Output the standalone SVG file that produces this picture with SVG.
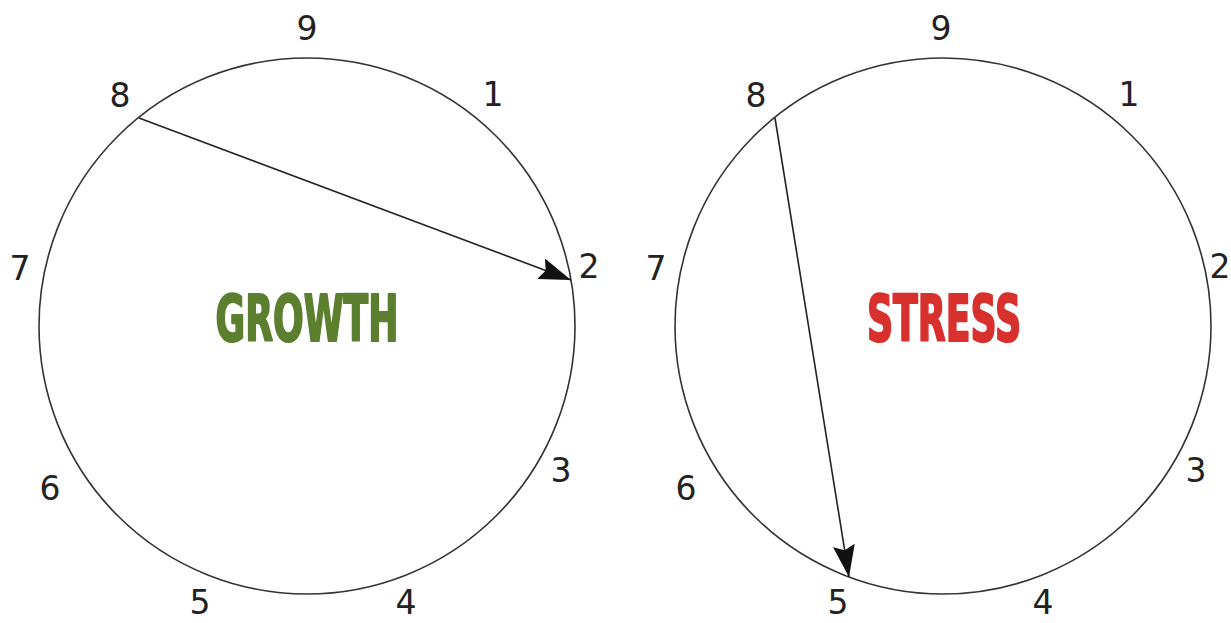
<svg xmlns="http://www.w3.org/2000/svg" width="1231" height="623" viewBox="0 0 1231 623">
<style>
.ring{fill:none;stroke:#333;stroke-width:1.6}
.num{font-family:"DejaVu Sans",Verdana,sans-serif;font-size:33px;fill:#222;text-anchor:middle}
.title{font-family:"DejaVu Sans Condensed","Liberation Sans Narrow",sans-serif;font-weight:bold;font-size:64px;text-anchor:middle;stroke-width:2.2;stroke-linejoin:round}
.conn{stroke:#222;stroke-width:1.6;fill:none}
</style>
<defs>
<marker id="ah" markerUnits="userSpaceOnUse" markerWidth="34" markerHeight="24" refX="32" refY="11" orient="auto">
<path d="M0,0 L32,11 L0,22 L5,11 Z" fill="#111"/>
</marker>
</defs>
<rect width="1231" height="623" fill="#fff"/>
<g id="growth">
<circle class="ring" cx="307" cy="326" r="268"/>
<text class="title" x="307" y="341" fill="#5b7f2e" stroke="#5b7f2e" textLength="183" lengthAdjust="spacingAndGlyphs">GROWTH</text>
<text class="num" x="307" y="40">9</text>
<text class="num" x="493" y="106">1</text>
<text class="num" x="589" y="278">2</text>
<text class="num" x="561" y="482">3</text>
<text class="num" x="406" y="614">4</text>
<text class="num" x="200" y="614">5</text>
<text class="num" x="50" y="500">6</text>
<text class="num" x="20" y="280">7</text>
<text class="num" x="120" y="107">8</text>
</g>
<g id="stress">
<circle class="ring" cx="943" cy="326" r="268"/>
<text class="title" x="944" y="341" fill="#d8302c" stroke="#d8302c" textLength="154" lengthAdjust="spacingAndGlyphs">STRESS</text>
<text class="num" x="941" y="40">9</text>
<text class="num" x="1129" y="106">1</text>
<text class="num" x="1220" y="278">2</text>
<text class="num" x="1196" y="482">3</text>
<text class="num" x="1043" y="614">4</text>
<text class="num" x="838" y="614">5</text>
<text class="num" x="686" y="500">6</text>
<text class="num" x="656" y="280">7</text>
<text class="num" x="756" y="107">8</text>
</g>
<g id="connectors">
<line class="conn" x1="139" y1="118" x2="571" y2="280" marker-end="url(#ah)"/>
<line class="conn" x1="775" y1="118" x2="849" y2="577" marker-end="url(#ah)"/>
</g>
</svg>
